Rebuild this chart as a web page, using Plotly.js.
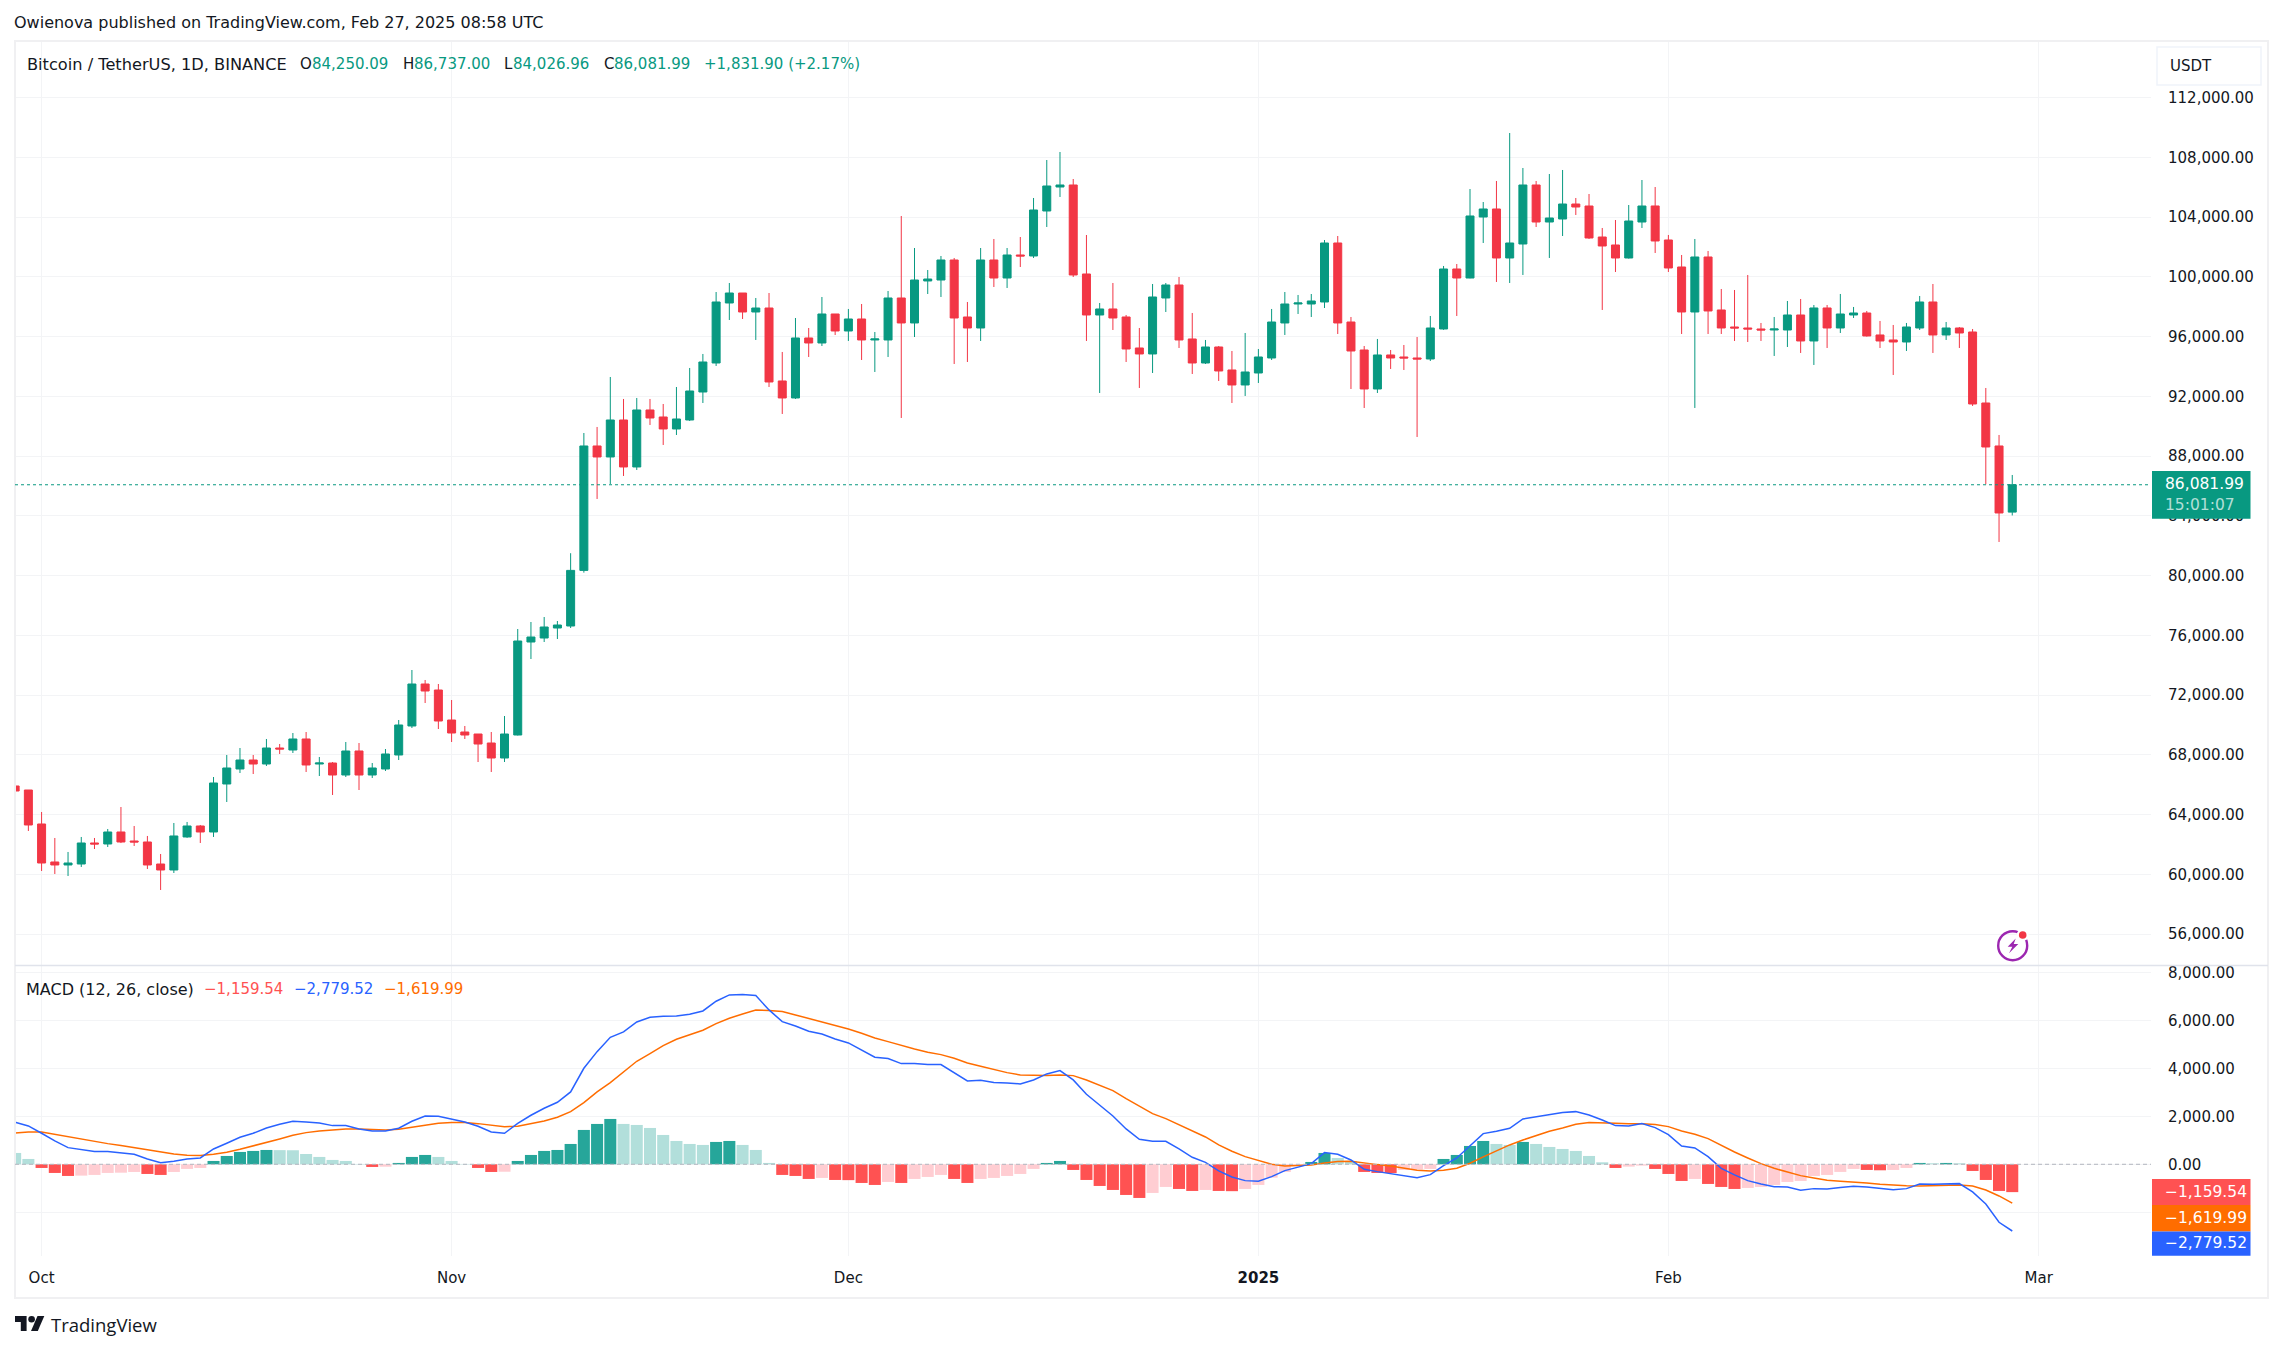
<!DOCTYPE html>
<html>
<head>
<meta charset="utf-8">
<script src="https://cdn.plot.ly/plotly-3.0.1.min.js"></script>
<style>
  html, body { margin: 0; padding: 0; background: #fff; }
</style>
</head>
<body>
<div id="chart" style="width:2283px;height:1351px"></div>
<script>
// Daily BTCUSDT candles, Sep 29 2024 .. Feb 27 2025, one row per month
const opens = [
  65919,65651,
  63376,60832,60632,60698,62104,62037,62840,62238,62171,60698,60297,62506,63242,62840,66053,67057,67659,67391,68462,68328,69065,67391,67458,66655,68262,66655,67057,67994,69935,72746,72344,
  70336,69533,69399,68797,67793,69332,75557,75825,76494,76628,80350,88677,87941,90417,87272,91087,90618,89815,90417,92291,94232,98248,98917,97646,97913,93028,91890,95906,95571,97512,
  96374,97177,95772,95772,98583,96910,99721,99787,101126,97311,96575,101126,99921,101461,101394,104406,106012,106146,100189,97445,97847,97311,95236,94835,98583,99453,95839,94232,95303,93764,92760,
  93563,94567,96910,98181,98181,98315,102264,96976,95102,92492,94768,94634,94567,94500,96508,100524,99921,104004,104540,101260,102197,106146,103669,103870,104874,104740,102665,102130,101260,103669,104741,
  102465,100658,97646,101327,97780,96642,96575,96508,96441,96441,97445,95705,97914,96575,97445,97579,96107,95772,95638,96575,98315,96107,96575,96307,91555,88677,84250.09
];
const highs = [
  66120,65651,
  64179,62439,61502,62506,62439,63041,64513,63242,62573,61368,63443,63510,63309,66521,67994,68462,67994,69065,68730,69466,69533,67860,67525,68864,68797,67458,68395,70336,73683,73014,72746,
  71675,69935,69399,69533,70604,76427,76896,77230,76962,81500,89547,89949,93295,91823,91890,91823,91488,92626,93898,94835,98984,99587,98917,98583,98917,94969,97244,96575,98650,97512,
  97847,98181,96307,99051,104071,101929,100457,101394,101260,98315,101929,102532,101929,102665,105276,107819,108355,106547,102799,98248,99587,97445,96575,99520,99587,99988,97579,95772,95370,95035,96240,
  95169,97847,98984,98784,98850,102465,102732,97311,95370,95839,95102,95437,95972,97378,100725,100858,105878,105008,106414,109626,107284,106414,106882,107150,105276,105543,103268,103803,104807,106480,106012,
  102800,101461,102532,101729,99185,99118,100122,96910,97311,98382,98516,98114,98114,98851,97981,97713,97044,96776,96910,98717,99520,96977,96642,96508,92559,89414,86737
];
const lows = [
  65451,62907,
  60230,60029,59895,60498,61702,61836,62100,61903,60364,58958,60096,62450,62104,62506,64848,66789,66722,67258,68061,68128,66856,66588,65317,66521,65651,66454,66923,67659,69801,71474,69734,
  68864,69065,67525,66856,67525,69300,74419,75557,75758,76494,80200,85130,86134,86669,87071,90083,88744,89413,90350,91555,94032,97110,97177,95772,92626,90819,91823,94634,95370,96106,
  95705,94433,93630,94634,90551,95972,98850,98650,94165,94299,95705,99319,99252,100658,101260,103335,105343,99988,95705,92224,96441,94299,92559,93563,97646,95236,93496,94165,93028,91555,92024,
  92894,94433,96106,97512,97311,97913,96173,92492,91220,92224,93831,93764,89279,94366,96450,97378,99900,102264,99654,99587,100122,103335,101260,102732,104138,102532,97780,100323,101220,103268,101595,
  100323,96173,91221,96173,96173,95705,95638,95705,94701,95303,94902,94099,95236,96240,97244,96000,95236,93429,95036,96441,94902,95772,95236,91355,86112,82252,84026.96
];
const closes = [
  65584,63309,
  60765,60632,60765,62104,62037,62840,62171,62171,60632,60297,62573,63242,62840,66120,67124,67659,67391,68462,68395,69065,67325,67458,66655,68262,66655,67124,68061,70002,72746,72277,70269,
  69466,69332,68730,67793,69399,75624,75892,76561,76695,80350,88677,87941,90417,87272,91087,90551,89815,90484,92358,94299,98315,98917,97646,97913,92961,91890,95906,95571,97512,96374,
  97177,95772,95839,98583,96910,99787,99854,101126,97244,96575,101126,99921,101461,101394,104473,106079,106146,100122,97445,97847,97244,95169,94835,98650,99453,95772,94232,95303,93697,92760,93630,
  94634,96976,98181,98248,98382,102264,96910,95035,92492,94768,94567,94567,94500,96575,100524,99921,104071,104540,101260,102264,106146,103669,103937,104874,104673,102599,102063,101260,103736,104740,102398,
  100591,97646,101327,97713,96575,96575,96508,96441,96508,97445,95705,97914,96575,97512,97579,96040,95705,95638,96642,98315,96107,96575,96240,91488,88610,84193,86081.99
];

// MACD (12, 26, close)
const histogram = [
  472,222,
  -153,-361,-486,-472,-444,-361,-350,-320,-403,-444,-320,-194,-153,139,347,514,556,597,590,585,430,306,181,139,14,-111,-100,56,306,389,306,
  139,14,-153,-320,-310,139,389,556,597,847,1431,1681,1889,1681,1639,1514,1222,972,847,806,931,972,806,597,56,-444,-486,-611,-569,-653,
  -660,-778,-861,-736,-778,-611,-528,-444,-611,-778,-611,-569,-486,-403,-194,56,139,-236,-653,-903,-1069,-1278,-1403,-1194,-944,-1028,-1111,-1069,-1111,-1120,-1028,
  -861,-556,-319,-69,97,472,264,139,-319,-361,-365,-236,-215,-194,222,389,764,972,847,806,931,847,722,639,556,347,83,-153,-97,-56,-194,
  -403,-694,-611,-819,-944,-1028,-986,-944,-861,-736,-694,-486,-444,-319,-194,-236,-250,-236,-153,56,42,56,42,-278,-653,-1111,-1159.54
];
const macdLine = [
  1750,1597,
  1292,972,694,611,528,528,472,417,222,69,125,222,264,639,875,1125,1292,1514,1667,1792,1764,1722,1611,1611,1472,1389,1389,1500,1792,2014,2000,
  1889,1764,1583,1347,1292,1708,2042,2333,2583,3014,4000,4694,5292,5514,5931,6125,6167,6181,6250,6389,6792,7056,7069,7028,6431,5944,5764,5542,5431,5222,
  5056,4750,4458,4403,4194,4194,4153,4153,3819,3472,3500,3403,3389,3347,3514,3764,3903,3514,2917,2458,2014,1472,1042,958,958,639,292,83,-278,-528,-681,
  -708,-514,-264,-111,28,486,417,181,-208,-306,-389,-472,-556,-431,-56,264,792,1278,1375,1500,1889,1972,2042,2153,2194,2056,1847,1611,1597,1694,1528,
  1236,764,681,319,-167,-444,-681,-819,-931,-944,-1083,-1014,-1028,-972,-917,-944,-1014,-1056,-1014,-819,-833,-806,-806,-1153,-1653,-2417,-2779.52
];
const signalLine = [
  1306,1347,
  1347,1250,1125,1028,931,861,778,694,597,500,431,375,361,417,500,625,764,889,1056,1208,1319,1389,1431,1472,1472,1444,1431,1458,1542,1653,1708,
  1736,1736,1694,1625,1569,1583,1681,1806,1958,2194,2569,3014,3403,3833,4292,4611,4944,5208,5403,5583,5861,6083,6264,6431,6403,6361,6222,6083,5944,5792,
  5639,5458,5264,5111,4944,4806,4667,4569,4417,4222,4083,3944,3819,3722,3694,3694,3722,3694,3514,3306,3069,2736,2431,2111,1903,1653,1389,1139,806,542,319,
  153,0,-69,-56,-28,56,111,125,42,-14,-69,-167,-250,-278,-250,-167,42,306,569,806,1014,1208,1375,1514,1667,1736,1736,1708,1694,1694,1653,
  1569,1389,1250,1069,778,514,264,28,-167,-306,-472,-569,-667,-708,-736,-778,-833,-875,-889,-903,-889,-861,-861,-903,-1069,-1319,-1619.99
];

const priceTicks = [56000,60000,64000,68000,72000,76000,80000,84000,88000,92000,96000,100000,104000,108000,112000];
const macdTicks = [-2000,0,2000,4000,6000,8000];
const macdTickLabels = ['','0.00','2,000.00','4,000.00','6,000.00','8,000.00'];
const monthTicks = ['2024-10-01','2024-11-01','2024-12-01','2025-01-01','2025-02-01','2025-03-01'];
const monthLabels = ['Oct','Nov','Dec','<b>2025</b>','Feb','Mar'];
const lastPrice = 86081.99;

const UP = '#089981', DOWN = '#F23645';
const GRID = '#f3f4f6', FRAME = '#f0f0f2';
const TEXT = '#131722';
const FONT = 'DejaVu Sans, sans-serif';

// one date per candle
const days = opens.map((_, i) => new Date(Date.UTC(2024, 8, 29 + i)).toISOString().slice(0, 10));

// TradingView tones: strong while the bar grows away from zero, pale when it shrinks
const histColors = histogram.map((v, i) => {
  const prev = i ? histogram[i - 1] : v;
  if (v >= 0) return v > prev ? '#26A69A' : '#B2DFDB';
  return v < prev ? '#FF5252' : '#FFCDD2';
});

// plot box in page pixels, the overlays below are placed with it
const L = 15, R = 2151, T = 41, B = 1256;
const px = x => (x - L) / (R - L);
const py = y => 1 - (y - T) / (B - T);

function label(x, y, text, color, size, family) {
  return {
    xref: 'paper', yref: 'paper', x: px(x - 1), y: py(y), text: text, showarrow: false,
    xanchor: 'left', yanchor: 'middle', borderpad: 0, borderwidth: 0,
    font: { family: family || FONT, size: size || 15, color: color || TEXT }
  };
}
function box(x0, y0, x1, y1, fill, line) {
  return {
    type: 'rect', xref: 'paper', yref: 'paper', layer: 'above',
    x0: px(x0), x1: px(x1), y0: py(y0), y1: py(y1),
    fillcolor: fill, line: line || { width: 0 }
  };
}
function poly(points, fill) {
  const d = points.map((p, i) => (i ? 'L' : 'M') + px(p[0]) + ',' + py(p[1])).join(' ') + ' Z';
  return { type: 'path', xref: 'paper', yref: 'paper', layer: 'above', path: d, fillcolor: fill, line: { width: 0 } };
}
function dot(cx, cy, r, fill, line) {
  const s = box(cx - r, cy - r, cx + r, cy + r, fill, line);
  s.type = 'circle';
  return s;
}

const traces = [
  {
    type: 'candlestick', x: days, open: opens, high: highs, low: lows, close: closes,
    xaxis: 'x', yaxis: 'y', hoverinfo: 'skip', whiskerwidth: 0,
    increasing: { line: { color: UP, width: 1 }, fillcolor: UP },
    decreasing: { line: { color: DOWN, width: 1 }, fillcolor: DOWN }
  },
  {
    type: 'bar', x: days, y: histogram, xaxis: 'x', yaxis: 'y2', hoverinfo: 'skip',
    marker: { color: histColors, line: { width: 0 } }
  },
  {
    type: 'scatter', mode: 'lines', x: days, y: signalLine, xaxis: 'x', yaxis: 'y2', hoverinfo: 'skip',
    line: { color: '#FF6D00', width: 1.5 }
  },
  {
    type: 'scatter', mode: 'lines', x: days, y: macdLine, xaxis: 'x', yaxis: 'y2', hoverinfo: 'skip',
    line: { color: '#2962FF', width: 1.5 }
  }
];

const shapes = [
  // frame and pane divider
  box(15, 41, 2268, 1298, 'rgba(0,0,0,0)', { color: FRAME, width: 2 }),
  { type: 'line', xref: 'paper', yref: 'paper', layer: 'above', x0: 0, x1: px(2268), y0: py(965.5), y1: py(965.5), line: { color: '#e0e3eb', width: 1.5 } },
  // last price and zero lines
  { type: 'line', xref: 'paper', yref: 'y', x0: 0, x1: 1, y0: lastPrice, y1: lastPrice, line: { color: UP, width: 1, dash: 'dot' } },
  { type: 'line', xref: 'paper', yref: 'y2', x0: 0, x1: 1, y0: 0, y1: 0, line: { color: '#b2b5be', width: 1, dash: '4px,3px' } },
  // axis badges
  box(2152, 471, 2250.5, 518.7, UP),
  box(2152, 1179, 2250.5, 1205, '#FF5252'),
  box(2152, 1205, 2250.5, 1231.5, '#FF6D00'),
  box(2152, 1231.5, 2250.5, 1255.7, '#2962FF'),
  // USDT button
  box(2157, 47, 2261, 85, '#fff', { color: '#f0f3fa', width: 1.5 }),
  // bolt badge
  dot(2012.7, 945.7, 14.5, 'rgba(0,0,0,0)', { color: '#9C27B0', width: 2.4 }),
  poly([[2015.7, 938.5], [2007.7, 946.7], [2012.3, 946.7], [2009, 953.3], [2018.3, 944], [2013.7, 944]], '#9C27B0'),
  dot(2022.7, 935, 6, '#fff'),
  dot(2022.7, 935, 3.8, '#F23645'),
  // TradingView mark
  poly([[15, 1316], [26.6, 1316], [26.6, 1331], [20.8, 1331], [20.8, 1322], [15, 1322]], '#131722'),
  poly([[37.5, 1316], [44.3, 1316], [37.8, 1331], [31, 1331]], '#131722'),
  dot(31.6, 1319.3, 3.3, '#131722')
];

const annotations = [
  label(15, 23, 'Owienova published on TradingView.com, Feb 27, 2025 08:58 UTC', TEXT, 16),
  label(27.5, 64, 'Bitcoin / TetherUS, 1D, BINANCE', TEXT, 16.2),
  label(301, 64, 'O'),
  label(313, 64, '84,250.09', UP),
  label(403.5, 64, 'H'),
  label(415, 64, '86,737.00', UP),
  label(505, 64, 'L'),
  label(514, 64, '84,026.96', UP),
  label(604.5, 64, 'C'),
  label(615, 64, '86,081.99', UP),
  label(705, 64, '+1,831.90 (+2.17%)', UP),
  label(2171, 66, 'USDT', TEXT, 15),
  label(2166, 484, '86,081.99', '#fff', 15.5),
  label(2166, 505, '15:01:07', 'rgba(255,255,255,0.7)', 15.5),
  label(27, 989, 'MACD (12, 26, close)', TEXT, 16),
  label(205, 989, '\u22121,159.54', '#FF5252'),
  label(295, 989, '\u22122,779.52', '#2962FF'),
  label(385, 989, '\u22121,619.99', '#FF6D00'),
  label(2166, 1192, '\u22121,159.54', '#fff', 15.5),
  label(2166, 1218, '\u22121,619.99', '#fff', 15.5),
  label(2166, 1243, '\u22122,779.52', '#fff', 15.5),
  label(51.5, 1325, 'TradingView', '#131722', 18.5, '"Open Sans", sans-serif')
];

const layout = {
  width: 2283, height: 1351,
  paper_bgcolor: '#fff', plot_bgcolor: '#fff',
  margin: { l: L, r: 2283 - R, t: T, b: 1351 - B },
  showlegend: false, boxgap: 0.395, boxgroupgap: 0, bargap: 0.09,
  font: { family: FONT, size: 15, color: TEXT },
  xaxis: {
    type: 'date', anchor: 'y2', range: ['2024-09-28 23:45', '2025-03-09 11:45'],
    rangeslider: { visible: false },
    tickmode: 'array', tickvals: monthTicks, ticktext: monthLabels,
    ticks: 'outside', ticklen: 8, tickcolor: 'rgba(0,0,0,0)',
    showgrid: true, gridcolor: GRID, gridwidth: 1, zeroline: false, showline: false,
    tickfont: { size: 15, color: TEXT }
  },
  yaxis: {
    domain: [0.2395, 1], anchor: 'x', side: 'right', range: [53937, 115784],
    tickmode: 'array', tickvals: priceTicks, tickformat: ',.2f',
    ticks: 'outside', ticklen: 13, tickcolor: 'rgba(0,0,0,0)', ticklabelshift: -2.5,
    showgrid: true, gridcolor: GRID, gridwidth: 1, zeroline: false, showline: false,
    tickfont: { size: 15, color: TEXT }
  },
  yaxis2: {
    domain: [0, 0.2387], anchor: 'x', side: 'right', range: [-3821, 8262],
    tickmode: 'array', tickvals: macdTicks, ticktext: macdTickLabels,
    ticks: 'outside', ticklen: 13, tickcolor: 'rgba(0,0,0,0)', ticklabelshift: -2.5,
    showgrid: true, gridcolor: GRID, gridwidth: 1, zeroline: false, showline: false,
    tickfont: { size: 15, color: TEXT }
  },
  shapes: shapes,
  annotations: annotations
};

Plotly.newPlot('chart', traces, layout, { displayModeBar: false, staticPlot: true });
</script>
</body>
</html>
